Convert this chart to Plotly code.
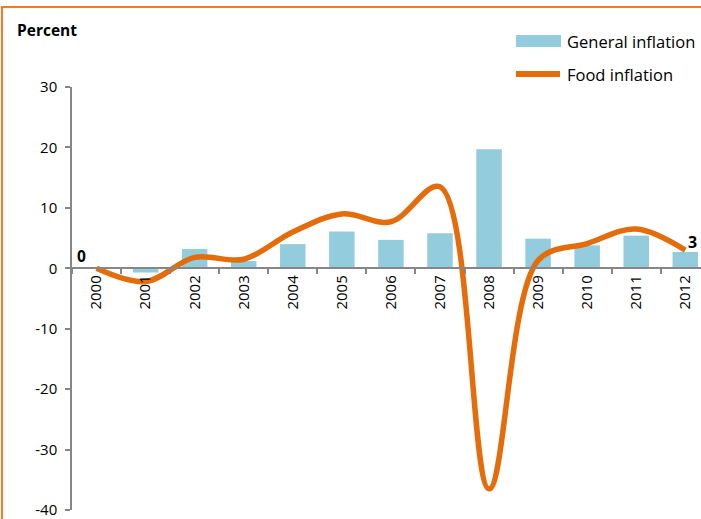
import plotly.graph_objects as go

years = ["2000", "2001", "2002", "2003", "2004", "2005", "2006",
         "2007", "2008", "2009", "2010", "2011", "2012"]
general_inflation = [0, -0.7, 3.2, 1.2, 4.0, 6.1, 4.7, 5.8, 19.7, 4.9, 3.8, 5.4, 2.7]
food_inflation = [0, -2.2, 1.8, 1.5, 6.0, 9.0, 7.7, 13.5, -36.5, 1.3, 4.1, 6.5, 3.0]
series_names = ["General inflation", "Food inflation"]
y_ticks = [-40, -30, -20, -10, 0, 10, 20, 30]
y_tick_labels = ["-40", "-30", "-20", "-10", "0", "10", "20", "30"]

W, H = 701, 519
L, R, T, B = 72, 0, 87, 9
pw, ph = W - L - R, H - T - B

def px_x(x):
    return (x - L) / pw

def px_y(y):
    return (H - B - y) / ph

font_family = "'Open Sans', sans-serif"
bar_color = "#93CDDD"
line_color = "#E46C0A"
axis_grey = "#868686"

fig = go.Figure()
fig.add_trace(go.Bar(x=years, y=general_inflation, name=series_names[0],
                     marker=dict(color=bar_color, line=dict(width=0)),
                     width=0.52))
fig.add_trace(go.Scatter(x=years, y=food_inflation, name=series_names[1],
                         mode="lines", line=dict(color=line_color, width=5.5,
                                                 shape="spline", smoothing=1.0)))

# point labels on first and last values (x given as category index)
fig.add_annotation(x=0, y=food_inflation[0], text="<b>%d</b>" % food_inflation[0],
                   showarrow=False, xshift=-15, yshift=12,
                   font=dict(size=15.5, color="black", family=font_family))
fig.add_annotation(x=len(years) - 1, y=food_inflation[-1], text="<b>%d</b>" % food_inflation[-1],
                   showarrow=False, xshift=7, yshift=8,
                   font=dict(size=16, color="black", family=font_family))

fig.add_annotation(xref="paper", yref="paper", x=px_x(15), y=px_y(30),
                   xanchor="left", yanchor="middle", text="<b>Percent</b>",
                   showarrow=False, font=dict(size=15.5, color="black", family=font_family))

# legend drawn by hand so the swatches get the wide Excel look
fig.add_shape(type="rect", xref="paper", yref="paper",
              x0=px_x(516), x1=px_x(561), y0=px_y(47), y1=px_y(35),
              fillcolor=bar_color, line=dict(width=0))
fig.add_shape(type="line", xref="paper", yref="paper",
              x0=px_x(516), x1=px_x(560), y0=px_y(74), y1=px_y(74),
              line=dict(color=line_color, width=6))
fig.add_annotation(xref="paper", yref="paper", x=px_x(565), y=px_y(41),
                   xanchor="left", yanchor="middle", text=series_names[0],
                   showarrow=False, font=dict(size=16.5, color="black", family=font_family))
fig.add_annotation(xref="paper", yref="paper", x=px_x(565), y=px_y(74),
                   xanchor="left", yanchor="middle", text=series_names[1],
                   showarrow=False, font=dict(size=16.5, color="black", family=font_family))

# outer frame
fig.add_shape(type="rect", xref="paper", yref="paper",
              x0=px_x(2), x1=px_x(720), y0=px_y(530), y1=px_y(7),
              line=dict(color="#F47920", width=2), layer="above")

fig.update_layout(
    width=W, height=H,
    margin=dict(l=L, r=R, t=T, b=B),
    plot_bgcolor="white", paper_bgcolor="white",
    font=dict(family=font_family, size=15, color="black"),
    showlegend=False,
    xaxis=dict(type="category", range=[-0.5, 12.32], tickson="boundaries",
               ticks="outside", ticklen=5, tickcolor=axis_grey, tickwidth=2,
               showline=True, linecolor=axis_grey, linewidth=2,
               anchor="free", position=40 / 70, tickangle=-90,
               showgrid=False, zeroline=False, tickfont=dict(size=15)),
    yaxis=dict(range=[-40, 30], tickvals=y_ticks, ticktext=y_tick_labels,
               ticks="outside", ticklen=5, tickcolor=axis_grey, tickwidth=1.5,
               showline=True, linecolor=axis_grey, linewidth=1.5,
               showgrid=False, zeroline=False, ticklabelstandoff=5,
               ticklabeloverflow="allow", tickfont=dict(size=15)),
    bargap=0.48,
)

fig.write_html("out.html", config={"displayModeBar": False},
               post_script="document.body.style.margin='0';")
